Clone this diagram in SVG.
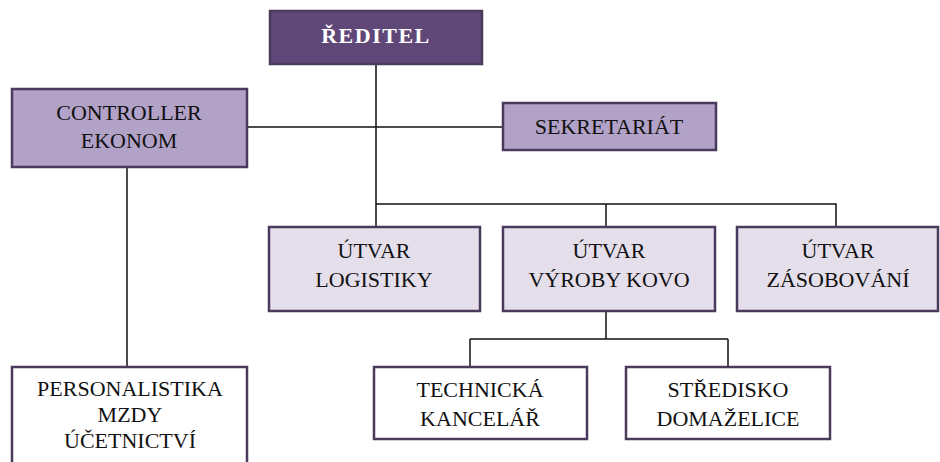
<svg xmlns="http://www.w3.org/2000/svg" width="940" height="462" viewBox="0 0 940 462">
<style>
.box{stroke:#4a3b5c;stroke-width:2.5}
.dark{fill:#5f4778}
.mid{fill:#b2a2c8}
.light{fill:#e5dfec}
.white{fill:#ffffff}
text{font-family:'Liberation Serif','DejaVu Serif',serif;font-size:22px;fill:#111;text-anchor:middle}
.title{font-weight:bold;fill:#ffffff;letter-spacing:1.5px}
.conn{stroke:#111;stroke-width:1.5;fill:none}
</style>
<rect width="940" height="462" fill="#ffffff"/>
<g id="connectors">
<path class="conn" d="M376 64V204M376 204H836V227M606 204V227M376 204V227"/>
<path class="conn" d="M247 127H503"/>
<path class="conn" d="M127 167V367"/>
<path class="conn" d="M606 311V339M470 339H728M470 339V367M728 339V367"/>
</g>
<g id="reditel">
<rect class="box dark" x="270" y="11" width="212" height="53"/>
<text class="title" x="376" y="43" font-family="Liberation Serif, DejaVu Serif, serif">ŘEDITEL</text>
</g>
<g id="controller">
<rect class="box mid" x="12" y="89" width="235" height="78"/>
<text x="129" y="120">CONTROLLER</text>
<text x="129" y="148">EKONOM</text>
</g>
<g id="sekretariat">
<rect class="box mid" x="503" y="103" width="213" height="47"/>
<text x="609" y="134">SEKRETARIÁT</text>
</g>
<g id="logistiky">
<rect class="box light" x="269" y="227" width="211" height="84"/>
<text x="374" y="258">ÚTVAR</text>
<text x="374" y="287">LOGISTIKY</text>
</g>
<g id="vyroby">
<rect class="box light" x="503" y="227" width="212" height="84"/>
<text x="609" y="258">ÚTVAR</text>
<text x="609" y="287">VÝROBY KOVO</text>
</g>
<g id="zasobovani">
<rect class="box light" x="737" y="227" width="201" height="84"/>
<text x="838" y="258">ÚTVAR</text>
<text x="838" y="287">ZÁSOBOVÁNÍ</text>
</g>
<g id="personalistika">
<rect class="box white" x="12" y="367" width="235" height="100"/>
<text x="130" y="396">PERSONALISTIKA</text>
<text x="130" y="422">MZDY</text>
<text x="130" y="448">ÚČETNICTVÍ</text>
</g>
<g id="technicka">
<rect class="box white" x="374" y="367" width="213" height="72"/>
<text x="480" y="397">TECHNICKÁ</text>
<text x="480" y="426">KANCELÁŘ</text>
</g>
<g id="stredisko">
<rect class="box white" x="626" y="367" width="204" height="72"/>
<text x="728" y="397">STŘEDISKO</text>
<text x="728" y="426">DOMAŽELICE</text>
</g>
</svg>
